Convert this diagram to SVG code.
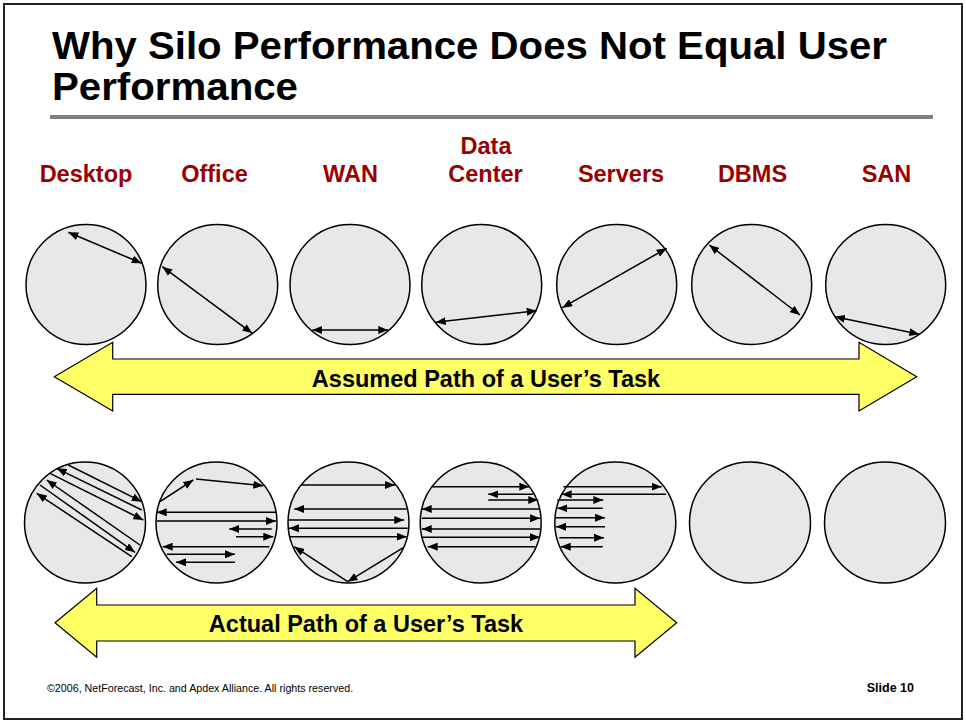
<svg xmlns="http://www.w3.org/2000/svg" width="966" height="723" viewBox="0 0 966 723">
<style>
text{font-family:"Liberation Sans",Arial,sans-serif}
.title{font-size:38px;font-weight:bold;fill:#000}
.lbl{font-size:23.5px;font-weight:bold;fill:#990000;text-anchor:middle}
.atx{font-size:23.5px;font-weight:bold;fill:#000;text-anchor:middle}
.c{fill:#E8E8E8;stroke:#000;stroke-width:1.5}
.a{stroke:#000;stroke-width:1.5;fill:none;marker-end:url(#ah)}
.d{stroke:#000;stroke-width:1.5;fill:none;marker-end:url(#ah);marker-start:url(#ah)}
.big{fill:#FFFF66;stroke:#000;stroke-width:1.2}
.foot{font-size:10.7px;fill:#000}
.slide{font-size:12.5px;font-weight:bold;fill:#000;text-anchor:end}
</style>
<defs>
<marker id="ah" viewBox="0 0 10 8" refX="10" refY="4" markerWidth="10" markerHeight="8" markerUnits="userSpaceOnUse" orient="auto-start-reverse">
<path d="M0,0 L10,4 L0,8 z" fill="#000"/>
</marker>
</defs>
<rect x="0" y="0" width="966" height="723" fill="#fff"/>
<rect x="4" y="4" width="958" height="715" fill="none" stroke="#222" stroke-width="2"/>

<g id="title">
<text class="title" x="52" y="59" textLength="835" lengthAdjust="spacingAndGlyphs">Why Silo Performance Does Not Equal User</text>
<text class="title" x="52" y="100" textLength="246" lengthAdjust="spacingAndGlyphs">Performance</text>
<rect x="50" y="115" width="883" height="4" fill="#808080"/>
</g>

<g id="labels">
<text class="lbl" x="86" y="182">Desktop</text>
<text class="lbl" x="214.5" y="182">Office</text>
<text class="lbl" x="350.5" y="182">WAN</text>
<text class="lbl" x="486" y="154">Data</text>
<text class="lbl" x="485.5" y="182">Center</text>
<text class="lbl" x="621" y="182">Servers</text>
<text class="lbl" x="752.5" y="182">DBMS</text>
<text class="lbl" x="886.5" y="182">SAN</text>
</g>

<g id="top-desktop"><circle class="c" cx="86" cy="284.5" r="60"/><line class="d" x1="68.3" y1="232.3" x2="141.7" y2="263.3"/></g>
<g id="top-office"><circle class="c" cx="217.7" cy="284.5" r="60"/><line class="d" x1="162.3" y1="266.7" x2="252.3" y2="333.3"/></g>
<g id="top-wan"><circle class="c" cx="350" cy="284.5" r="60"/><line class="d" x1="312.3" y1="330" x2="388.3" y2="330"/></g>
<g id="top-datacenter"><circle class="c" cx="481.7" cy="284.5" r="60"/><line class="d" x1="435.7" y1="322.3" x2="536.7" y2="310.7"/></g>
<g id="top-servers"><circle class="c" cx="616.7" cy="284.5" r="60"/><line class="d" x1="562.3" y1="307.7" x2="666.7" y2="248.3"/></g>
<g id="top-dbms"><circle class="c" cx="751.7" cy="284.5" r="60"/><line class="d" x1="709.3" y1="245" x2="800" y2="315"/></g>
<g id="top-san"><circle class="c" cx="885.7" cy="284.5" r="60"/><line class="d" x1="835" y1="316.7" x2="919.3" y2="334.3"/></g>

<g id="bot-desktop"><circle class="c" cx="85" cy="522.5" r="60.5"/>
<line class="a" x1="68.3" y1="465" x2="141.7" y2="501.7"/>
<line class="a" x1="141.7" y1="510" x2="56.7" y2="468.3"/>
<line class="a" x1="50" y1="473.3" x2="143.3" y2="520"/>
<line class="a" x1="140" y1="545" x2="46.7" y2="480"/>
<line class="a" x1="40" y1="485" x2="135" y2="552.3"/>
<line class="a" x1="131.7" y1="556.7" x2="36.7" y2="493.3"/>
</g>
<g id="bot-office"><circle class="c" cx="216.5" cy="522.5" r="60.5"/>
<line class="a" x1="160" y1="501.7" x2="193.3" y2="480"/>
<line class="a" x1="196" y1="479" x2="263.3" y2="485.7"/>
<line class="a" x1="276" y1="512.3" x2="156.7" y2="512.3"/>
<line class="a" x1="156.7" y1="521" x2="276" y2="521"/>
<line class="a" x1="271.7" y1="529" x2="229.3" y2="529"/>
<line class="a" x1="236" y1="536.7" x2="273.3" y2="536.7"/>
<line class="a" x1="269.3" y1="546.7" x2="162.7" y2="546.7"/>
<line class="a" x1="166.7" y1="554.3" x2="235" y2="554.3"/>
<line class="a" x1="235" y1="562.3" x2="176" y2="562.3"/>
</g>
<g id="bot-wan"><circle class="c" cx="348.5" cy="522.5" r="60.5"/>
<line class="a" x1="301.7" y1="485" x2="395" y2="485"/>
<line class="a" x1="406.7" y1="509" x2="294.3" y2="509"/>
<line class="a" x1="289" y1="520" x2="404.3" y2="520"/>
<line class="a" x1="407.7" y1="528.3" x2="289" y2="528.3"/>
<line class="a" x1="289" y1="536.7" x2="406.7" y2="536.7"/>
<line class="a" x1="347.7" y1="581.7" x2="294.3" y2="546.7"/>
<line class="a" x1="403.3" y1="547.7" x2="347.7" y2="581.7"/>
</g>
<g id="bot-datacenter"><circle class="c" cx="480.7" cy="522.5" r="60.5"/>
<line class="a" x1="431.7" y1="486.7" x2="529.3" y2="486.7"/>
<line class="a" x1="533.3" y1="494.3" x2="488.3" y2="494.3"/>
<line class="a" x1="488.3" y1="500" x2="538.3" y2="500"/>
<line class="a" x1="540" y1="509" x2="421.7" y2="509"/>
<line class="a" x1="421.7" y1="518.3" x2="540" y2="518.3"/>
<line class="a" x1="540" y1="529" x2="421.7" y2="529"/>
<line class="a" x1="421.7" y1="537.3" x2="540" y2="537.3"/>
<line class="a" x1="535" y1="546.7" x2="427.7" y2="546.7"/>
</g>
<g id="bot-servers"><circle class="c" cx="615.3" cy="522.5" r="60.5"/>
<line class="a" x1="563.3" y1="486.7" x2="661.7" y2="486.7"/>
<line class="a" x1="666" y1="494.3" x2="561.7" y2="494.3"/>
<line class="a" x1="557.3" y1="500" x2="603.3" y2="500"/>
<line class="a" x1="602.7" y1="508.3" x2="557.3" y2="508.3"/>
<line class="a" x1="555" y1="517.7" x2="605" y2="517.7"/>
<line class="a" x1="605" y1="526.7" x2="556" y2="526.7"/>
<line class="a" x1="559.3" y1="537.7" x2="604" y2="537.7"/>
<line class="a" x1="602.7" y1="546.7" x2="560.7" y2="546.7"/>
</g>
<g id="bot-dbms"><circle class="c" cx="750" cy="522.5" r="60.5"/></g>
<g id="bot-san"><circle class="c" cx="885" cy="522.5" r="60.5"/></g>

<g id="connectors">
<g id="assumed-path">
<polygon class="big" points="54.3,376.7 112.7,342.3 112.7,359 859,359 859,342.3 916.7,376.7 859,411 859,394.3 112.7,394.3 112.7,411"/>
<text class="atx" x="486" y="386.5">Assumed Path of a User’s Task</text>
</g>
<g id="actual-path">
<polygon class="big" points="55,622.7 96.7,588.3 96.7,605 635,605 635,588.3 676.7,622.7 635,657.3 635,641 96.7,641 96.7,657.3"/>
<text class="atx" x="366" y="631.5">Actual Path of a User’s Task</text>
</g>
</g>

<g id="footer">
<text class="foot" x="47" y="692">©2006, NetForecast, Inc. and Apdex Alliance. All rights reserved.</text>
<text class="slide" x="914" y="692">Slide 10</text>
</g>
</svg>
